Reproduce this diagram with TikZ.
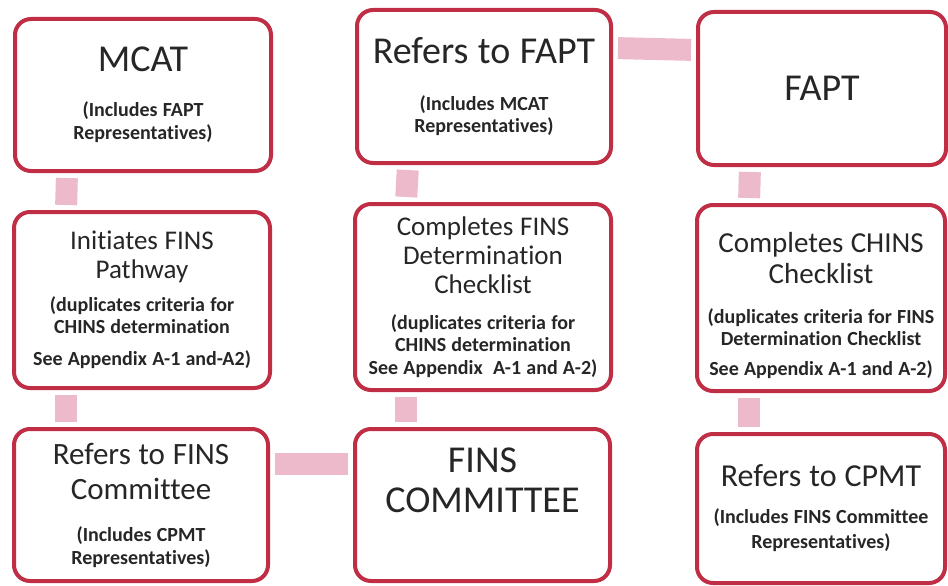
\documentclass[tikz,border=0pt]{standalone}
\usepackage{fontspec}
\setmainfont{Carlito}[Ligatures=NoCommon]
\usetikzlibrary{positioning}

\definecolor{boxred}{RGB}{192,46,70}
\definecolor{barpink}{RGB}{236,186,202}
\newcommand{\wide}{\spaceskip=0.25em\relax}
\newcommand{\headA}{\fontsize{38}{40}\selectfont\wide}
\newcommand{\headB}{\fontsize{27}{29}\selectfont\wide}
\newcommand{\headC}{\fontsize{31}{35}\selectfont\wide}
\newcommand{\note}{\fontsize{20}{22}\selectfont\bfseries\spaceskip=0.26em\relax}

\begin{document}
\begin{tikzpicture}[
    x=1pt, y=-1pt,
    box/.style={draw=boxred, line width=4pt, rounded corners=16pt, fill=white, align=flush center, text width=240pt, inner sep=0pt, text=black!85},
    bar/.style={draw=barpink, line width=22pt, shorten <=5pt, shorten >=5pt}
]
\useasboundingbox (0,0) rectangle (948,586);

% top row
\node[box, minimum width=256pt, minimum height=152pt] (mcat) at (143,95)
    {\headA MCAT\par\vspace{23pt}\note (Includes FAPT\\[1pt]Representatives)\par};
\node[box, minimum width=254pt, minimum height=153pt] (refapt) at (484,86.5)
    {\headA Refers to FAPT\par\vspace{25pt}\note (Includes MCAT\\Representatives)\par};
\node[box, minimum width=248pt, minimum height=153pt] (fapt) at (822,88.5)
    {\headA FAPT\par};

% middle row
\node[box, minimum width=256pt, minimum height=176pt] (init) at (142,300)
    {\headB Initiates FINS\\Pathway\par\vspace{11pt}\note (duplicates criteria for\\CHINS determination\\[10pt]See Appendix A-1 and-A2)\par};
\node[box, minimum width=256pt, minimum height=186pt] (compfins) at (483,297)
    {\headB Completes FINS\\Determination\\Checklist\par\vspace{14pt}\note (duplicates criteria for\\CHINS determination\\[1pt]See Appendix~ A-1 and A-2)\par};
\node[box, minimum width=248pt, minimum height=186pt] (compchins) at (821,298)
    {\fontsize{29}{31}\selectfont\wide\rule{0pt}{36pt}Completes CHINS\\Checklist\par\vspace{18pt}\note (duplicates criteria for FINS\\Determination Checklist\\[8pt]See Appendix A-1 and A-2)\par};

% bottom row
\node[box, minimum width=254pt, minimum height=152pt] (reffins) at (141,505)
    {\headC Refers to FINS\\Committee\par\vspace{20pt}\note (Includes CPMT\\[1pt]Representatives)\par};
\node[box, minimum width=255pt, minimum height=152pt] (finscom) at (482.5,505)
    {\headA FINS\\COMMITTEE\par\vspace{50pt}};
\node[box, minimum width=248pt, minimum height=149pt] (refcpmt) at (821,508.5)
    {\fontsize{32}{35}\selectfont\wide Refers to CPMT\par\vspace{15pt}\note (Includes FINS Committee\\[3pt]Representatives)\par};

% connectors
\draw[bar] ([xshift=54pt]mcat.south west) -- ([xshift=54pt]init.north west);
\draw[bar] ([xshift=54pt]init.south west) -- ([xshift=54pt]reffins.north west);
\draw[bar] ([xshift=53pt]refapt.south west) -- ([xshift=53pt]compfins.north west);
\draw[bar] ([xshift=53pt]compfins.south west) -- ([xshift=53pt]finscom.north west);
\draw[bar] ([xshift=54pt]fapt.south west) -- ([xshift=54pt]compchins.north west);
\draw[bar] ([xshift=54pt]compchins.south west) -- ([xshift=54pt]refcpmt.north west);
\draw[bar] ([yshift=-40pt]refapt.north east) -- ([yshift=-40pt]fapt.north west);
\draw[bar] ([yshift=-37pt]reffins.north east) -- ([yshift=-37pt]finscom.north west);
\end{tikzpicture}
\end{document}
